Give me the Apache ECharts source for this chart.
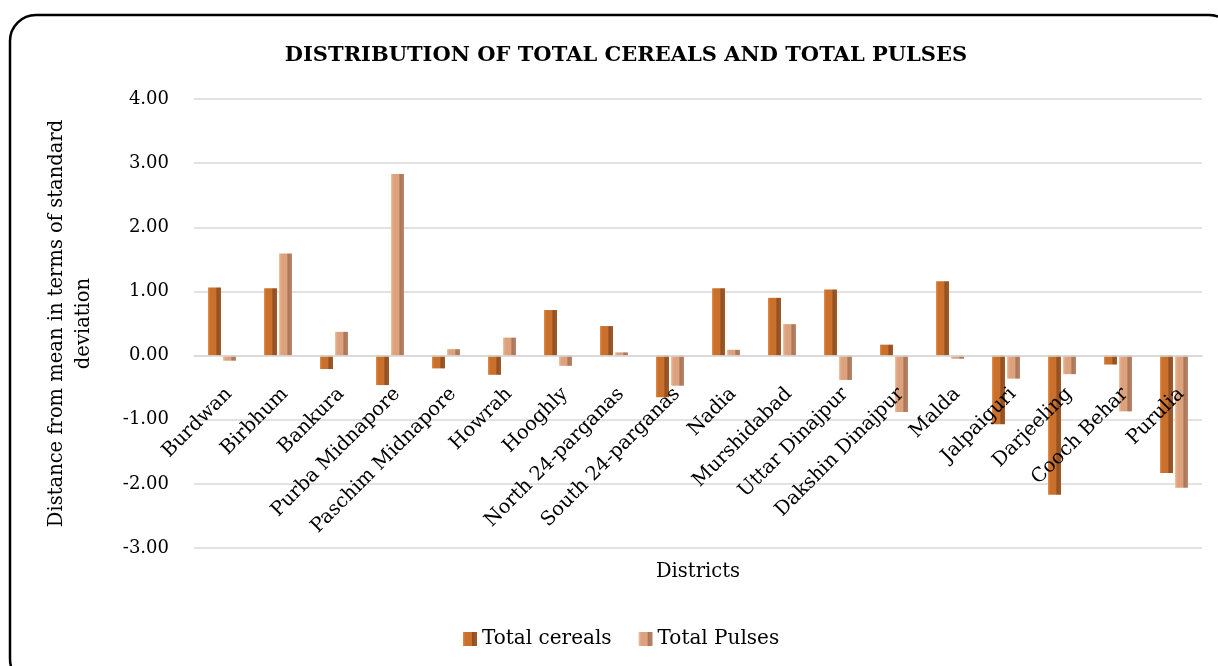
<!DOCTYPE html>
<html>
<head>
<meta charset="utf-8">
<script src="https://cdn.jsdelivr.net/npm/echarts@6/dist/echarts.min.js"></script>
<style>
html,body{margin:0;padding:0;background:#fff;}
#chart{width:1218px;height:666px;}
</style>
</head>
<body>
<div id="chart"></div>
<script>
const districts = ['Burdwan','Birbhum','Bankura','Purba Midnapore','Paschim Midnapore','Howrah','Hooghly','North 24-parganas','South 24-parganas','Nadia','Murshidabad','Uttar Dinajpur','Dakshin Dinajpur','Malda','Jalpaiguri','Darjeeling','Cooch Behar','Purulia'];
const totalCereals = [1.06, 1.05, -0.21, -0.46, -0.20, -0.30, 0.71, 0.46, -0.65, 1.05, 0.90, 1.03, 0.17, 1.16, -1.07, -2.17, -0.14, -1.83];
const totalPulses = [-0.08, 1.59, 0.37, 2.83, 0.10, 0.28, -0.16, 0.05, -0.47, 0.09, 0.49, -0.38, -0.88, -0.05, -0.36, -0.29, -0.87, -2.06];
const seriesNames = ['Total cereals', 'Total Pulses'];
const titleText = 'DISTRIBUTION OF TOTAL CEREALS AND TOTAL PULSES';
const yAxisName = 'Distance from mean in terms of standard\ndeviation';
const xAxisName = 'Districts';

const FONT = 'DejaVu Serif';
function grad(c0, c1, c2, c3) {
  return new echarts.graphic.LinearGradient(0, 0, 1, 0, [
    {offset: 0, color: c0},
    {offset: 0.18, color: c1},
    {offset: 0.62, color: c1},
    {offset: 0.68, color: c2},
    {offset: 1, color: c3}
  ]);
}
const chart = echarts.init(document.getElementById('chart'), null, {renderer: 'canvas'});
chart.setOption({
  backgroundColor: '#fff',
  animation: false,
  title: {
    text: titleText,
    left: 621, top: 40, textAlign: 'center',
    textStyle: {fontFamily: FONT, fontWeight: 'bold', fontSize: 21, color: '#000'}
  },
  legend: {
    data: seriesNames,
    left: 458, top: 624,
    itemWidth: 14, itemHeight: 14, itemGap: 27,
    icon: 'rect',
    textStyle: {fontFamily: FONT, fontSize: 20, color: '#000'}
  },
  grid: {left: 194, right: 16, top: 99, bottom: 118, containLabel: false, outerBoundsMode: 'none'},
  xAxis: {
    type: 'category',
    z: 5,
    data: districts,
    name: xAxisName,
    nameLocation: 'middle',
    nameGap: 206,
    offset: -192,
    nameTextStyle: {fontFamily: FONT, fontSize: 19.5, color: '#000'},
    axisLine: {onZero: false, lineStyle: {color: '#d9d9d9', width: 1.5}},
    axisTick: {show: false},
    axisLabel: {interval: 0, rotate: 45, margin: 28, verticalAlign: 'top', fontFamily: FONT, fontSize: 19.5, color: '#000'}
  },
  yAxis: {
    type: 'value',
    min: -3, max: 4, interval: 1,
    name: yAxisName,
    nameLocation: 'middle',
    nameGap: 97,
    nameTextStyle: {fontFamily: FONT, fontSize: 19.5, color: '#000', lineHeight: 27},
    axisLine: {show: false},
    axisTick: {show: false},
    axisLabel: {margin: 25, fontFamily: FONT, fontSize: 18, color: '#000', formatter: v => v.toFixed(2)},
    splitLine: {lineStyle: {color: '#d9d9d9', width: 1.5}}
  },
  series: [
    {
      name: seriesNames[0], type: 'bar', data: totalCereals,
      barWidth: 13, barGap: '15%',
      itemStyle: {color: grad('#e38c45', '#c8702c', '#8f4e22', '#a35a27')}
    },
    {
      name: seriesNames[1], type: 'bar', data: totalPulses,
      barWidth: 13,
      itemStyle: {color: grad('#f2c4a4', '#dca27e', '#a97559', '#b9856a')}
    }
  ],
  graphic: [{
    type: 'rect', silent: true, z: 100,
    shape: {x: 10, y: 15, width: 1225, height: 670, r: 26},
    style: {fill: 'none', stroke: '#000', lineWidth: 2.5}
  }]
});
</script>
</body>
</html>
